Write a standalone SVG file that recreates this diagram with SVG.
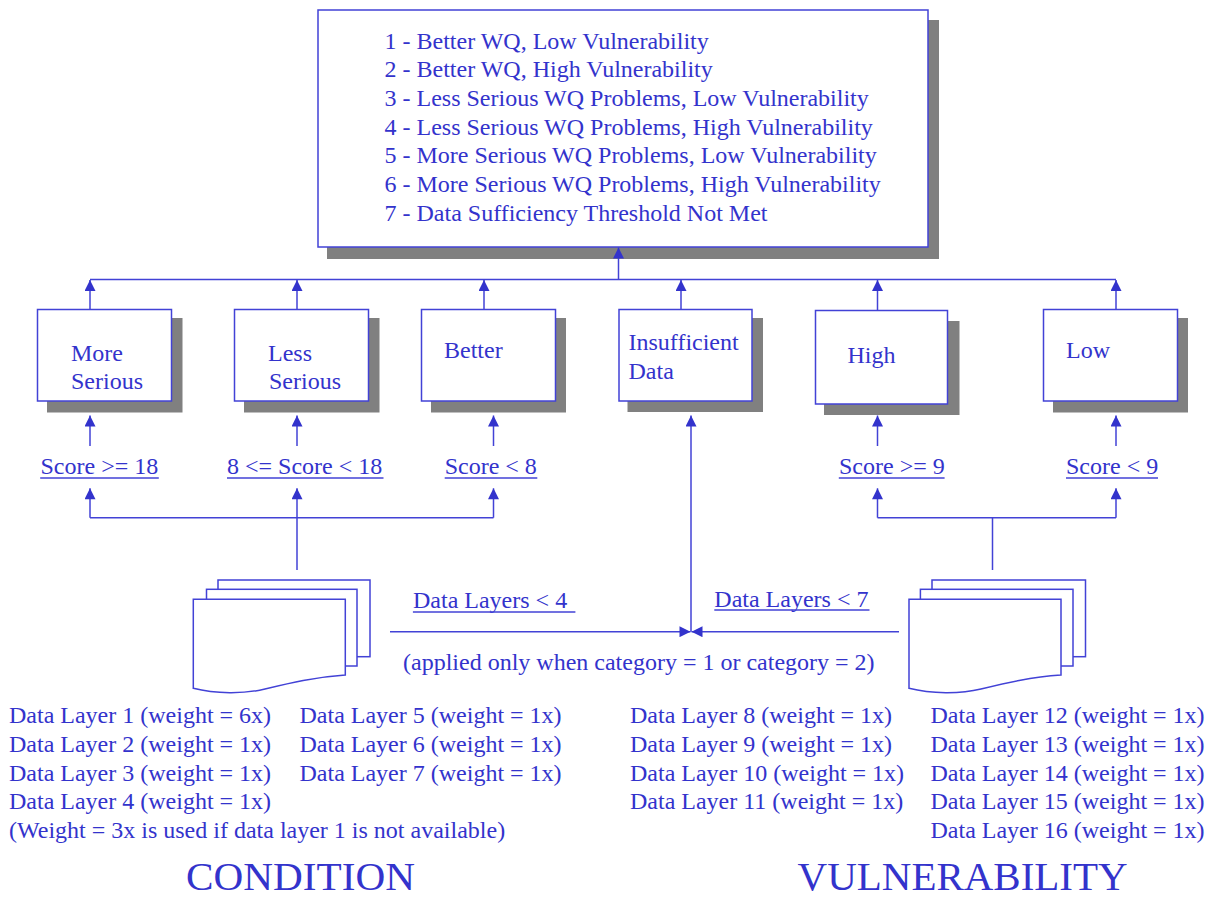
<svg xmlns="http://www.w3.org/2000/svg" width="1214" height="898" viewBox="0 0 1214 898">
<style>
text{font-family:"Liberation Serif","Times New Roman",serif;font-size:24px;fill:#3333cc}
.box{fill:#fff;stroke:#4242d6;stroke-width:1.5}
.sh{fill:#808080}
.ln{fill:none;stroke:#4242d6;stroke-width:1.5}
.ul{stroke:#4242d6;stroke-width:1.3}
.big{font-size:39px}
.doc{fill:#fff;stroke:#4242d6;stroke-width:1.5}
</style>
<defs>
<marker id="ah" viewBox="0 0 12 12" refX="12" refY="6" markerWidth="12" markerHeight="11" orient="auto" markerUnits="userSpaceOnUse">
<path d="M0,0 L12,6 L0,12 Z" fill="#3333cc"/>
</marker>
</defs>
<rect width="1214" height="898" fill="#fff"/>

<g id="categories">
<rect class="sh" x="327" y="20" width="612" height="239"/>
<rect class="box" x="318" y="10" width="610" height="237"/>
<text x="384.5" y="48.5">1 - Better WQ, Low Vulnerability</text>
<text x="384.5" y="77.2">2 - Better WQ, High Vulnerability</text>
<text x="384.5" y="106">3 - Less Serious WQ Problems, Low Vulnerability</text>
<text x="384.5" y="134.7">4 - Less Serious WQ Problems, High Vulnerability</text>
<text x="384.5" y="163.4">5 - More Serious WQ Problems, Low Vulnerability</text>
<text x="384.5" y="192.1">6 - More Serious WQ Problems, High Vulnerability</text>
<text x="384.5" y="220.8">7 - Data Sufficiency Threshold Not Met</text>
</g>

<g id="more-serious">
<rect class="sh" x="47" y="318" width="135.5" height="94.5"/>
<rect class="box" x="37.5" y="309.5" width="134" height="91.5"/>
<text x="71" y="360.5">More</text>
<text x="71" y="389">Serious</text>
</g>
<g id="less-serious">
<rect class="sh" x="244" y="318" width="135.5" height="94.5"/>
<rect class="box" x="234.5" y="309.5" width="134" height="91.5"/>
<text x="268" y="360.5">Less</text>
<text x="269" y="389">Serious</text>
</g>
<g id="better">
<rect class="sh" x="431" y="318" width="135" height="94.5"/>
<rect class="box" x="421.5" y="309.5" width="134" height="91.5"/>
<text x="444" y="357.5">Better</text>
</g>
<g id="insufficient">
<rect class="sh" x="627.5" y="318" width="135.5" height="94"/>
<rect class="box" x="619" y="309.5" width="133" height="91.5"/>
<text x="628.5" y="350">Insufficient</text>
<text x="628.5" y="379">Data</text>
</g>
<g id="high">
<rect class="sh" x="824" y="321" width="135.5" height="94"/>
<rect class="box" x="815.5" y="310.5" width="132" height="93.5"/>
<text x="847.5" y="362.5">High</text>
</g>
<g id="low">
<rect class="sh" x="1053" y="318" width="135" height="94.5"/>
<rect class="box" x="1043.5" y="309.5" width="134" height="91.5"/>
<text x="1066" y="358">Low</text>
</g>

<g id="score-labels">
<text x="40.5" y="474">Score &gt;= 18</text>
<line class="ul" x1="40.2" y1="478" x2="158.8" y2="478"/>
<text x="227" y="474">8 &lt;= Score &lt; 18</text>
<line class="ul" x1="227" y1="478" x2="383.5" y2="478"/>
<text x="444.7" y="474">Score &lt; 8</text>
<line class="ul" x1="444.7" y1="478" x2="537.3" y2="478"/>
<text x="839" y="474">Score &gt;= 9</text>
<line class="ul" x1="838.8" y1="478" x2="944.6" y2="478"/>
<text x="1066" y="474">Score &lt; 9</text>
<line class="ul" x1="1066" y1="478" x2="1158" y2="478"/>
<text x="413" y="608">Data Layers &lt; 4</text>
<line class="ul" x1="412.9" y1="612" x2="575.4" y2="612"/>
<text x="714.3" y="606.5">Data Layers &lt; 7</text>
<line class="ul" x1="714.3" y1="610" x2="869.5" y2="610"/>
<text x="403" y="670">(applied only when category = 1 or category = 2)</text>
</g>

<g id="condition-data">
<rect class="doc" x="218" y="580" width="152" height="76.7"/>
<rect class="doc" x="206.5" y="589.3" width="150.5" height="76.7"/>
<path class="doc" d="M193.3,599.3 H345.3 V675 C315,677 290,683 265,689 C245,694 215,694 193.3,688.3 Z"/>
<text x="9" y="723.3">Data Layer 1 (weight = 6x)</text>
<text x="9" y="752">Data Layer 2 (weight = 1x)</text>
<text x="9" y="780.7">Data Layer 3 (weight = 1x)</text>
<text x="9" y="809.3">Data Layer 4 (weight = 1x)</text>
<text x="9" y="838">(Weight = 3x is used if data layer 1 is not available)</text>
<text x="299.5" y="723.3">Data Layer 5 (weight = 1x)</text>
<text x="299.5" y="752">Data Layer 6 (weight = 1x)</text>
<text x="299.5" y="780.7">Data Layer 7 (weight = 1x)</text>
<text class="big" x="186" y="889.5" textLength="229" lengthAdjust="spacingAndGlyphs">CONDITION</text>
</g>

<g id="vulnerability-data">
<rect class="doc" x="932" y="580" width="153.5" height="76.7"/>
<rect class="doc" x="920.4" y="589.3" width="152.6" height="76.7"/>
<path class="doc" d="M909,599.3 H1061 V675 C1031,677 1006,683 981,689 C961,694 931,694 909,688.3 Z"/>
<text x="630" y="723.3">Data Layer 8 (weight = 1x)</text>
<text x="630" y="752">Data Layer 9 (weight = 1x)</text>
<text x="630" y="780.7">Data Layer 10 (weight = 1x)</text>
<text x="630" y="809.3">Data Layer 11 (weight = 1x)</text>
<text x="930.5" y="723.3">Data Layer 12 (weight = 1x)</text>
<text x="930.5" y="752">Data Layer 13 (weight = 1x)</text>
<text x="930.5" y="780.7">Data Layer 14 (weight = 1x)</text>
<text x="930.5" y="809.3">Data Layer 15 (weight = 1x)</text>
<text x="930.5" y="838">Data Layer 16 (weight = 1x)</text>
<text class="big" x="797.6" y="889.5" textLength="330" lengthAdjust="spacingAndGlyphs">VULNERABILITY</text>
</g>

<g id="connectors">
<line class="ln" x1="618.5" y1="279.5" x2="618.5" y2="247.5" marker-end="url(#ah)"/>
<line class="ln" x1="90" y1="279.5" x2="1116" y2="279.5"/>
<line class="ln" x1="90" y1="309.5" x2="90" y2="280" marker-end="url(#ah)"/>
<line class="ln" x1="297" y1="309.5" x2="297" y2="280" marker-end="url(#ah)"/>
<line class="ln" x1="484" y1="309.5" x2="484" y2="280" marker-end="url(#ah)"/>
<line class="ln" x1="681" y1="309.5" x2="681" y2="280" marker-end="url(#ah)"/>
<line class="ln" x1="877.5" y1="310.5" x2="877.5" y2="280" marker-end="url(#ah)"/>
<line class="ln" x1="1116" y1="309.5" x2="1116" y2="280" marker-end="url(#ah)"/>

<line class="ln" x1="90" y1="446" x2="90" y2="415.5" marker-end="url(#ah)"/>
<line class="ln" x1="297" y1="446" x2="297" y2="415.5" marker-end="url(#ah)"/>
<line class="ln" x1="493.5" y1="446" x2="493.5" y2="415.5" marker-end="url(#ah)"/>
<line class="ln" x1="877.5" y1="446" x2="877.5" y2="415.5" marker-end="url(#ah)"/>
<line class="ln" x1="1116" y1="446" x2="1116" y2="415.5" marker-end="url(#ah)"/>

<polyline class="ln" points="90,517.7 493.5,517.7"/>
<line class="ln" x1="90" y1="517.7" x2="90" y2="488.3" marker-end="url(#ah)"/>
<line class="ln" x1="297" y1="570" x2="297" y2="488.3" marker-end="url(#ah)"/>
<line class="ln" x1="493.5" y1="517.7" x2="493.5" y2="488.3" marker-end="url(#ah)"/>

<polyline class="ln" points="877.5,517.7 1116,517.7"/>
<line class="ln" x1="877.5" y1="517.7" x2="877.5" y2="488.3" marker-end="url(#ah)"/>
<line class="ln" x1="1116" y1="517.7" x2="1116" y2="488.3" marker-end="url(#ah)"/>
<line class="ln" x1="992.5" y1="570" x2="992.5" y2="517.7"/>

<line class="ln" x1="691" y1="631.7" x2="691" y2="415.5" marker-end="url(#ah)"/>
<line class="ln" x1="390" y1="631.7" x2="690.5" y2="631.7" marker-end="url(#ah)"/>
<line class="ln" x1="899" y1="631.7" x2="691.5" y2="631.7" marker-end="url(#ah)"/>
</g>
</svg>
